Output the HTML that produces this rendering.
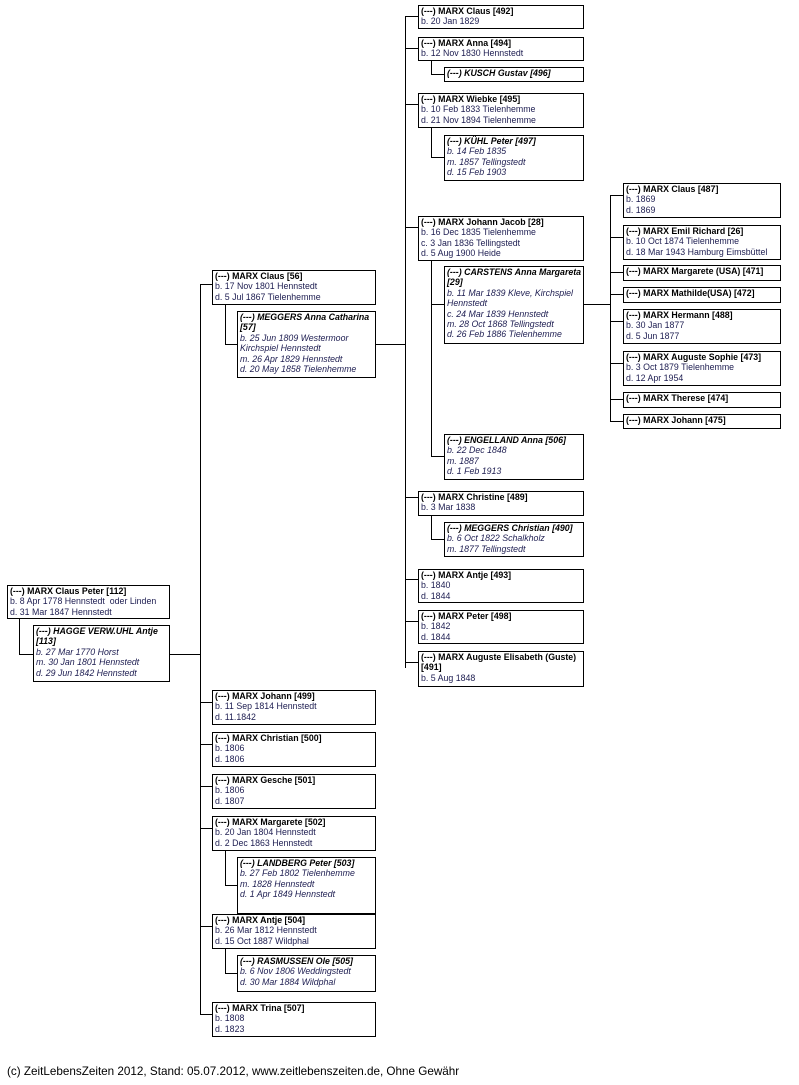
<!DOCTYPE html>
<html><head><meta charset="utf-8"><style>
body{margin:0;width:799px;height:1085px;background:#fff;position:relative;overflow:hidden;font-family:"Liberation Sans",Arial,sans-serif}
.b{position:absolute;border:1px solid #000;background:#fff;box-sizing:border-box;padding:0 0 0 2px;font-size:8.8px;line-height:10.4px;color:#1c1c50;white-space:nowrap;overflow:hidden}
.b b{color:#000}
.s{font-style:italic}
svg{position:absolute;left:0;top:0}
.f{position:absolute;left:7px;top:1065px;font-size:11.7px;color:#000}
</style></head><body>
<svg width="799" height="1085"><g stroke="#000" stroke-width="1" fill="none" shape-rendering="crispEdges">
<path d="M19.5 618V654.5H33M169 654.5H200.5M200.5 284V1015"/>
<path d="M200 284.5H212M200 702.5H212M200 744.5H212M200 786.5H212M200 828.5H212M200 926.5H212M200 1014.5H212"/>
<path d="M225.5 304V344.5H237M375 344.5H405.5M405.5 16V668"/>
<path d="M225.5 850V885.5H237M225.5 948V973.5H237"/>
<path d="M405 16.5H418M405 48.5H418M405 104.5H418M405 227.5H418M405 497.5H418M405 579.5H418M405 621.5H418M405 662.5H418"/>
<path d="M431.5 60V74.5H444M431.5 127V157.5H444M431.5 260V456.5H444M431.5 304.5H444M431.5 515V539.5H444"/>
<path d="M583 304.5H610.5M610.5 195V421M610 195.5H623M610 237.5H623M610 272.5H623M610 294.5H623M610 321.5H623M610 363.5H623M610 399.5H623M610 421.5H623"/>
</g></svg>

<div class="b" style="left:7px;top:585px;width:163px;height:34px"><b>(---) MARX Claus Peter [112]</b><br>b. 8 Apr 1778 Hennstedt &nbsp;oder Linden<br>d. 31 Mar 1847 Hennstedt</div>
<div class="b s" style="left:33px;top:625px;width:137px;height:57px"><b>(---) HAGGE VERW.UHL Antje<br>[113]</b><br>b. 27 Mar 1770 Horst<br>m. 30 Jan 1801 Hennstedt<br>d. 29 Jun 1842 Hennstedt</div>

<div class="b" style="left:212px;top:270px;width:164px;height:35px"><b>(---) MARX Claus [56]</b><br>b. 17 Nov 1801 Hennstedt<br>d. 5 Jul 1867 Tielenhemme</div>
<div class="b s" style="left:237px;top:311px;width:139px;height:67px"><b>(---) MEGGERS Anna Catharina<br>[57]</b><br>b. 25 Jun 1809 Westermoor<br>Kirchspiel Hennstedt<br>m. 26 Apr 1829 Hennstedt<br>d. 20 May 1858 Tielenhemme</div>
<div class="b" style="left:212px;top:690px;width:164px;height:35px"><b>(---) MARX Johann [499]</b><br>b. 11 Sep 1814 Hennstedt<br>d. 11.1842</div>
<div class="b" style="left:212px;top:732px;width:164px;height:35px"><b>(---) MARX Christian [500]</b><br>b. 1806<br>d. 1806</div>
<div class="b" style="left:212px;top:774px;width:164px;height:35px"><b>(---) MARX Gesche [501]</b><br>b. 1806<br>d. 1807</div>
<div class="b" style="left:212px;top:816px;width:164px;height:35px"><b>(---) MARX Margarete [502]</b><br>b. 20 Jan 1804 Hennstedt<br>d. 2 Dec 1863 Hennstedt</div>
<div class="b s" style="left:237px;top:857px;width:139px;height:57px"><b>(---) LANDBERG Peter [503]</b><br>b. 27 Feb 1802 Tielenhemme<br>m. 1828 Hennstedt<br>d. 1 Apr 1849 Hennstedt</div>
<div class="b" style="left:212px;top:914px;width:164px;height:35px"><b>(---) MARX Antje [504]</b><br>b. 26 Mar 1812 Hennstedt<br>d. 15 Oct 1887 Wildphal</div>
<div class="b s" style="left:237px;top:955px;width:139px;height:37px"><b>(---) RASMUSSEN Ole [505]</b><br>b. 6 Nov 1806 Weddingstedt<br>d. 30 Mar 1884 Wildphal</div>
<div class="b" style="left:212px;top:1002px;width:164px;height:35px"><b>(---) MARX Trina [507]</b><br>b. 1808<br>d. 1823</div>

<div class="b" style="left:418px;top:5px;width:166px;height:24px"><b>(---) MARX Claus [492]</b><br>b. 20 Jan 1829</div>
<div class="b" style="left:418px;top:37px;width:166px;height:24px"><b>(---) MARX Anna [494]</b><br>b. 12 Nov 1830 Hennstedt</div>
<div class="b s" style="left:444px;top:67px;width:140px;height:15px"><b>(---) KUSCH Gustav [496]</b></div>
<div class="b" style="left:418px;top:93px;width:166px;height:35px"><b>(---) MARX Wiebke [495]</b><br>b. 10 Feb 1833 Tielenhemme<br>d. 21 Nov 1894 Tielenhemme</div>
<div class="b s" style="left:444px;top:135px;width:140px;height:46px"><b>(---) KÜHL Peter [497]</b><br>b. 14 Feb 1835<br>m. 1857 Tellingstedt<br>d. 15 Feb 1903</div>
<div class="b" style="left:418px;top:216px;width:166px;height:45px"><b>(---) MARX Johann Jacob [28]</b><br>b. 16 Dec 1835 Tielenhemme<br>c. 3 Jan 1836 Tellingstedt<br>d. 5 Aug 1900 Heide</div>
<div class="b s" style="left:444px;top:266px;width:140px;height:78px"><b>(---) CARSTENS Anna Margareta<br>[29]</b><br>b. 11 Mar 1839 Kleve, Kirchspiel<br>Hennstedt<br>c. 24 Mar 1839 Hennstedt<br>m. 28 Oct 1868 Tellingstedt<br>d. 26 Feb 1886 Tielenhemme</div>
<div class="b s" style="left:444px;top:434px;width:140px;height:46px"><b>(---) ENGELLAND Anna [506]</b><br>b. 22 Dec 1848<br>m. 1887<br>d. 1 Feb 1913</div>
<div class="b" style="left:418px;top:491px;width:166px;height:25px"><b>(---) MARX Christine [489]</b><br>b. 3 Mar 1838</div>
<div class="b s" style="left:444px;top:522px;width:140px;height:35px"><b>(---) MEGGERS Christian [490]</b><br>b. 6 Oct 1822 Schalkholz<br>m. 1877 Tellingstedt</div>
<div class="b" style="left:418px;top:569px;width:166px;height:34px"><b>(---) MARX Antje [493]</b><br>b. 1840<br>d. 1844</div>
<div class="b" style="left:418px;top:610px;width:166px;height:34px"><b>(---) MARX Peter [498]</b><br>b. 1842<br>d. 1844</div>
<div class="b" style="left:418px;top:651px;width:166px;height:36px"><b>(---) MARX Auguste Elisabeth (Guste)<br>[491]</b><br>b. 5 Aug 1848</div>

<div class="b" style="left:623px;top:183px;width:158px;height:35px"><b>(---) MARX Claus [487]</b><br>b. 1869<br>d. 1869</div>
<div class="b" style="left:623px;top:225px;width:158px;height:35px"><b>(---) MARX Emil Richard [26]</b><br>b. 10 Oct 1874 Tielenhemme<br>d. 18 Mar 1943 Hamburg Eimsbüttel</div>
<div class="b" style="left:623px;top:265px;width:158px;height:16px"><b>(---) MARX Margarete (USA) [471]</b></div>
<div class="b" style="left:623px;top:287px;width:158px;height:16px"><b>(---) MARX Mathilde(USA) [472]</b></div>
<div class="b" style="left:623px;top:309px;width:158px;height:35px"><b>(---) MARX Hermann [488]</b><br>b. 30 Jan 1877<br>d. 5 Jun 1877</div>
<div class="b" style="left:623px;top:351px;width:158px;height:35px"><b>(---) MARX Auguste Sophie [473]</b><br>b. 3 Oct 1879 Tielenhemme<br>d. 12 Apr 1954</div>
<div class="b" style="left:623px;top:392px;width:158px;height:16px"><b>(---) MARX Therese [474]</b></div>
<div class="b" style="left:623px;top:414px;width:158px;height:15px"><b>(---) MARX Johann [475]</b></div>

<div class="f">(c) ZeitLebensZeiten 2012, Stand: 05.07.2012, www.zeitlebenszeiten.de, Ohne Gewähr</div>
</body></html>
